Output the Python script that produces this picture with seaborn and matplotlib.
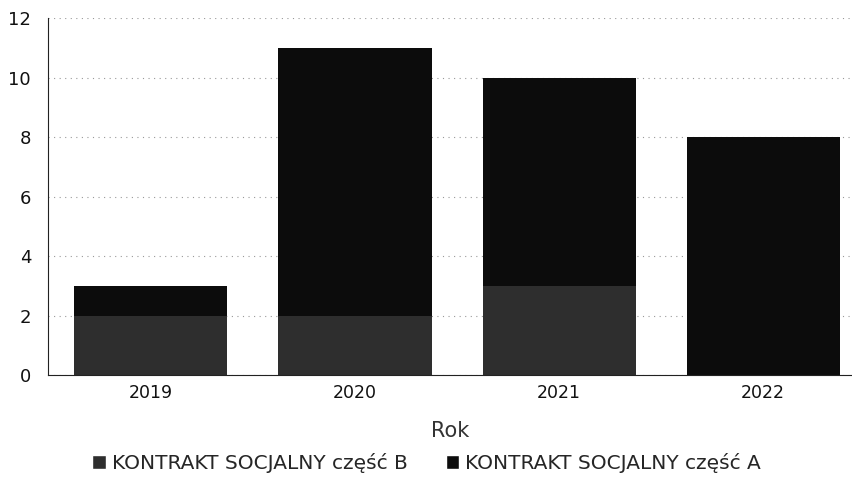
import pandas as pd
import seaborn as sns
import matplotlib.pyplot as plt
from matplotlib.patches import Patch

# Chart data
years = ['2019', '2020', '2021', '2022']
part_b = [2, 2, 3, 0]
part_a = [1, 9, 7, 8]
series_names = ['KONTRAKT SOCJALNY część B', 'KONTRAKT SOCJALNY część A']

df = pd.DataFrame({'Rok': years, 'B': part_b, 'A': part_a})
df['Total'] = df['A'] + df['B']

sns.set_style('white')
plt.rcParams['font.family'] = ['DejaVu Sans']

fig = plt.figure(figsize=(8.53, 4.86), dpi=100)
ax = fig.add_axes([0.056, 0.228, 0.944, 0.735])

color_a = '#0c0c0c'
color_b = '#2e2e2e'

# stacked bars: full height first (part A on top), then part B at the bottom
sns.barplot(x='Rok', y='Total', data=df, color=color_a, width=0.75, ax=ax,
            saturation=1, linewidth=0)
sns.barplot(x='Rok', y='B', data=df, color=color_b, width=0.75, ax=ax,
            saturation=1, linewidth=0)

ax.set_ylim(0, 12)
ax.set_yticks(range(0, 13, 2))
ax.set_xlim(-0.505, 3.44)
ax.yaxis.grid(True, linestyle=(0, (1, 4)), color='#999999', linewidth=0.8)
ax.set_axisbelow(True)

for side in ['top', 'right']:
    ax.spines[side].set_visible(False)
ax.spines['left'].set_color('#222222')
ax.spines['bottom'].set_color('#222222')
ax.spines['bottom'].set_linestyle((0, (2, 1)))

ax.tick_params(axis='y', labelsize=13, length=0, pad=12, labelcolor='#111111')
ax.tick_params(axis='x', labelsize=12.5, length=0, pad=6, labelcolor='#111111')
ax.set_ylabel('')
ax.set_xlabel('Rok', fontsize=15, labelpad=14, color='#333333')

handles = [Patch(facecolor=color_b, label=series_names[0]),
           Patch(facecolor=color_a, label=series_names[1])]
fig.legend(handles=handles, loc='center', bbox_to_anchor=(0.5, 0.047), ncol=2,
           frameon=False, fontsize=14.5, handlelength=0.65, handleheight=0.7,
           handletextpad=0.3, columnspacing=1.9)

plt.savefig('out.png', dpi=100)
